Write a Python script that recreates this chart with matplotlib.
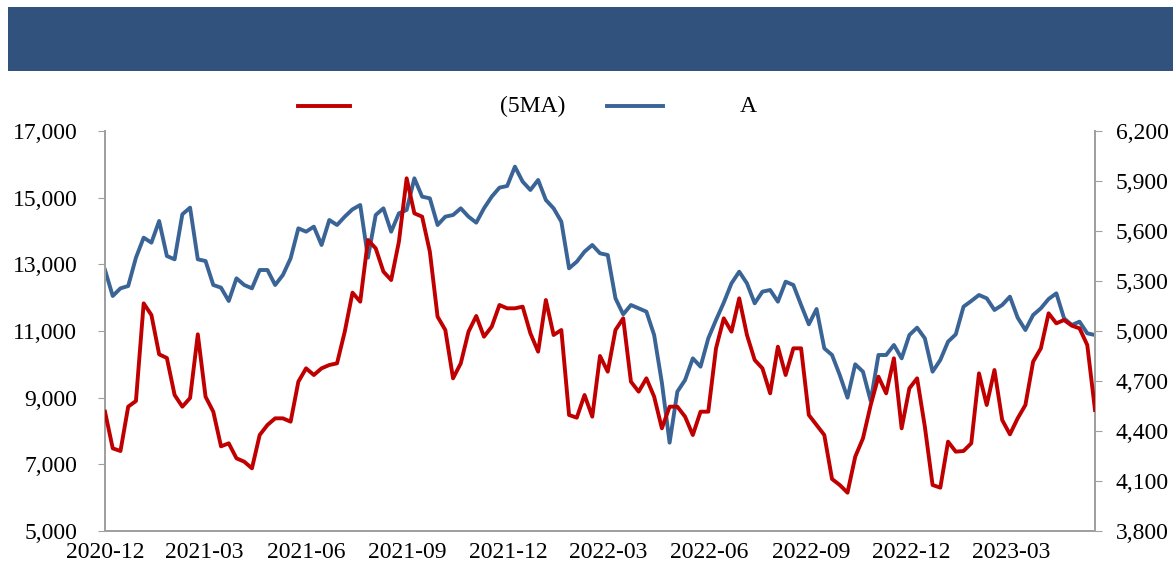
import numpy as np
import pandas as pd
import matplotlib
matplotlib.use("Agg")
import matplotlib.pyplot as plt
from matplotlib.lines import Line2D
from matplotlib.patches import Rectangle
from matplotlib.ticker import FuncFormatter, FixedLocator
import matplotlib.dates as mdates

plt.rcParams['font.family'] = ['Liberation Serif', 'DejaVu Serif']

# weekly readings, 2020-12-01 .. 2023-05-16
dates = pd.date_range('2020-12-01', periods=129, freq='7D')

# left axis: 5MA series (red)
ma5 = [8580, 7480, 7400, 8730, 8900, 11830, 11480, 10300, 10190, 9080,
       8730, 8990, 10900, 9030, 8580, 7540, 7630, 7180, 7080, 6880,
       7880, 8180, 8380, 8380, 8280, 9480, 9880, 9680, 9880, 9980,
       10030, 10980, 12150, 11880, 13730, 13480, 12780, 12530, 13680, 15580,
       14530, 14430, 13380, 11430, 11030, 9580, 10030, 10980, 11450, 10830,
       11130, 11780, 11680, 11680, 11730, 10930, 10380, 11930, 10880, 11030,
       8480, 8400, 9080, 8430, 10250, 9780, 11030, 11380, 9480, 9180,
       9580, 9030, 8080, 8730, 8730, 8430, 7880, 8580, 8580, 10480,
       11380, 10980, 11980, 10880, 10130, 9880, 9130, 10530, 9680, 10480,
       10480, 8480, 8180, 7880, 6560, 6380, 6150, 7230, 7780, 8780,
       9630, 9130, 10180, 8080, 9280, 9580, 8130, 6380, 6300, 7680,
       7380, 7400, 7630, 9730, 8780, 9830, 8330, 7900, 8380, 8780,
       10080, 10480, 11530, 11230, 11330, 11160, 11080, 10580, 8630]

# right axis: index A (blue)
idx_a = [5366, 5210, 5256, 5270, 5440, 5560, 5530, 5660, 5450, 5430,
         5700, 5740, 5430, 5420, 5276, 5260, 5180, 5316, 5276, 5256,
         5366, 5366, 5276, 5336, 5436, 5616, 5596, 5626, 5516, 5666,
         5636, 5686, 5730, 5756, 5440, 5696, 5736, 5596, 5706, 5726,
         5916, 5806, 5796, 5636, 5686, 5696, 5736, 5686, 5650, 5736,
         5806, 5860, 5870, 5986, 5896, 5846, 5906, 5786, 5736, 5656,
         5376, 5416, 5476, 5516, 5466, 5456, 5196, 5100, 5156, 5136,
         5116, 4976, 4690, 4330, 4636, 4706, 4836, 4786, 4956, 5066,
         5170, 5286, 5356, 5286, 5166, 5236, 5246, 5176, 5296, 5276,
         5156, 5040, 5132, 4896, 4856, 4736, 4600, 4800, 4756, 4580,
         4856, 4856, 4916, 4836, 4976, 5020, 4956, 4756, 4826, 4936,
         4980, 5146, 5180, 5216, 5196, 5126, 5156, 5206, 5080, 5006,
         5096, 5136, 5192, 5226, 5076, 5036, 5056, 4986, 4976]

left_ticks = [5000, 7000, 9000, 11000, 13000, 15000, 17000]
right_ticks = [3800, 4100, 4400, 4700, 5000, 5300, 5600, 5900, 6200]

red = '#C00000'
blue = '#3A6496'
grey = '#A0A0A0'

fig = plt.figure(figsize=(11.73, 5.70), dpi=100)
fig.add_artist(Rectangle((8 / 1173, 0.8754), 1.0, 0.1123, transform=fig.transFigure,
                         facecolor='#31527C', edgecolor='none'))

ax = fig.add_axes([105 / 1173, 0.0684, 990 / 1173, 0.7018])
ax2 = ax.twinx()

ax.plot(dates, ma5, color=red, lw=2.8, zorder=3)
ax2.plot(dates, idx_a, color=blue, lw=2.8)
ax.set_zorder(ax2.get_zorder() + 1)
ax.patch.set_visible(False)

ax.set_xlim(dates[0], dates[-1])
ax.set_ylim(left_ticks[0], left_ticks[-1])
ax2.set_ylim(right_ticks[0], right_ticks[-1])
ax.yaxis.set_major_locator(FixedLocator(left_ticks))
ax2.yaxis.set_major_locator(FixedLocator(right_ticks))
fmt = FuncFormatter(lambda v, p: f'{v:,.0f}')
ax.yaxis.set_major_formatter(fmt)
ax2.yaxis.set_major_formatter(fmt)

ax.xaxis.set_major_locator(mdates.MonthLocator(bymonth=[3, 6, 9, 12]))
ax.xaxis.set_major_formatter(mdates.DateFormatter('%Y-%m'))

for a in (ax, ax2):
    a.spines['top'].set_visible(False)
    for s in ('left', 'right', 'bottom'):
        a.spines[s].set_color(grey)
        a.spines[s].set_linewidth(1.3)
ax.tick_params(axis='y', labelsize=17, length=5, color=grey, pad=15)
ax2.tick_params(axis='y', labelsize=17, length=5, color=grey, pad=10)
ax.tick_params(axis='x', labelsize=17, length=0, pad=8)

# legend drawn by hand to keep the original spacing
ly = (570 - 106) / 570
fig.add_artist(Line2D([298 / 1173, 350 / 1173], [ly, ly], color=red, lw=2.8,
                      transform=fig.transFigure))
fig.text(500 / 1173, ly, '(5MA)', fontsize=17, va='center', ha='left')
fig.add_artist(Line2D([607 / 1173, 663 / 1173], [ly, ly], color=blue, lw=2.8,
                      transform=fig.transFigure))
fig.text(748 / 1173, ly, 'A', fontsize=17, va='center', ha='center')

fig.savefig('out.png', dpi=100)
